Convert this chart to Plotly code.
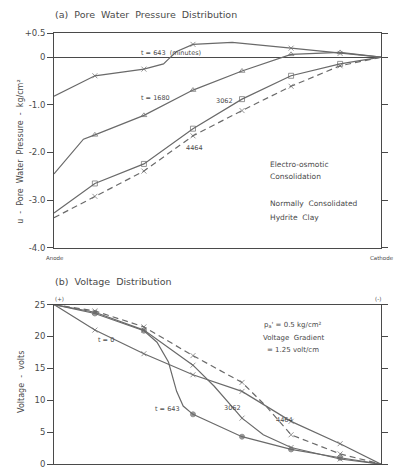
import plotly.graph_objects as go

W, H = 397, 475

# ---------------- data ----------------
MEAS_X = [2.5, 5.5, 8.5, 11.5, 14.5, 17.5]          # measuring points (cm from anode)

# (a) pore water pressure, kg/cm2
pwp_643_x = [0, 2.5, 5.5, 6.7, 7.0, 7.5, 8.5, 10.9, 14.5, 17.5, 20]
pwp_643_u = [-0.82, -0.39, -0.25, -0.14, -0.04, 0.12, 0.27, 0.31, 0.19, 0.08, 0]
pwp_1680_x = [0, 1.8, 2.5, 5.5, 8.5, 11.5, 14.5, 17.5, 20]
pwp_1680_u = [-2.45, -1.72, -1.63, -1.22, -0.69, -0.29, 0.06, 0.10, 0]
pwp_3062_x = [0, 2.5, 5.5, 8.5, 11.5, 14.5, 17.5, 20]
pwp_3062_u = [-3.27, -2.65, -2.24, -1.50, -0.88, -0.39, -0.14, 0]
pwp_4464_x = [0, 1.6, 2.5, 5.5, 8.5, 11.5, 14.5, 17.5, 20]
pwp_4464_u = [-3.37, -3.08, -2.92, -2.39, -1.65, -1.12, -0.61, -0.18, 0]

# (b) voltage, volts
v_0_x = [0, 2.5, 5.5, 8.5, 11.5, 14.5, 17.5, 20]
v_0 = [25, 21.0, 17.3, 14.0, 11.4, 6.7, 3.2, 0]
v_643_x = [0, 2.5, 5.5, 6.3, 7.0, 7.5, 7.9, 8.5, 11.5, 14.5, 17.5, 20]
v_643 = [25, 23.6, 20.9, 19.1, 16.0, 11.4, 9.1, 7.8, 4.3, 2.3, 1.0, 0]
v_3062_x = [0, 2.5, 5.5, 8.5, 9.8, 11.5, 12.8, 14.5, 17.5, 20]
v_3062 = [25, 23.8, 21.0, 15.5, 12.2, 7.2, 4.6, 2.6, 0.8, 0]
v_4464_x = [0, 2.5, 5.5, 8.5, 11.5, 13.0, 14.5, 17.5, 20]
v_4464 = [25, 24.0, 21.5, 17.0, 12.8, 9.0, 4.6, 1.6, 0]

pwp_yticks = [0.5, 0, -1, -2, -3, -4]
pwp_yticklabels = ["+0.5", "0", "-1.0", "-2.0", "-3.0", "-4.0"]
v_yticks = [0, 5, 10, 15, 20, 25]

# ---------------- style ----------------
INK = "#4a4a4a"
LINE = "#6a6a6a"
FONT = "DejaVu Sans, Verdana, sans-serif"


def msizes(xs, s=5):
    return [s if x in MEAS_X else 0 for x in xs]


def curve(xs, ys, xa, ya, symbol, dash="solid"):
    return go.Scatter(
        x=xs, y=ys, xaxis=xa, yaxis=ya, mode="lines+markers",
        line=dict(color=LINE, width=1.2, dash=dash),
        marker=dict(symbol=symbol, size=msizes(xs), color=LINE,
                    line=dict(color=LINE, width=1)),
        showlegend=False, hoverinfo="skip")


fig = go.Figure()
fig.add_trace(curve(pwp_643_x, pwp_643_u, "x", "y", "x-thin-open"))
fig.add_trace(curve(pwp_1680_x, pwp_1680_u, "x", "y", "triangle-up-open"))
fig.add_trace(curve(pwp_3062_x, pwp_3062_u, "x", "y", "square-open"))
fig.add_trace(curve(pwp_4464_x, pwp_4464_u, "x", "y", "x-thin-open", "6px,4px"))

fig.add_trace(curve(v_0_x, v_0, "x2", "y2", "x-thin-open"))
fig.add_trace(curve(v_643_x, v_643, "x2", "y2", "circle"))
fig.add_trace(curve(v_3062_x, v_3062, "x2", "y2", "x-thin-open"))
fig.add_trace(curve(v_4464_x, v_4464, "x2", "y2", "x-thin-open", "6px,4px"))

XDOM = [54 / W, 381 / W]
axcommon = dict(showgrid=False, showline=True, linecolor=INK, linewidth=1,
                mirror=True, zeroline=False)

fig.update_layout(
    width=W, height=H, autosize=False,
    margin=dict(l=0, r=0, t=0, b=0),
    paper_bgcolor="white", plot_bgcolor="white",
    font=dict(family=FONT, color=INK, size=8.5),
    xaxis=dict(domain=XDOM, range=[0, 20], anchor="y", showticklabels=False,
               ticks="", **axcommon),
    yaxis=dict(domain=[1 - 248 / H, 1 - 29 / H], range=[-4, 0.5], anchor="x",
               tickvals=pwp_yticks, ticktext=pwp_yticklabels, ticks="outside",
               ticklen=6, tickcolor=INK, tickfont=dict(size=8.5),
               showline=True, linecolor=INK, linewidth=1, mirror="ticks",
               showgrid=False, zeroline=True, zerolinecolor=INK, zerolinewidth=1),
    xaxis2=dict(domain=XDOM, range=[0, 20], anchor="y2", showticklabels=False,
                ticks="", **axcommon),
    yaxis2=dict(domain=[1 - 469 / H, 1 - 306 / H], range=[0, 25], anchor="x2",
                tickvals=v_yticks, ticks="outside", ticklen=6, tickcolor=INK,
                tickfont=dict(size=8.5), showline=True, linecolor=INK,
                linewidth=1, mirror="ticks", showgrid=False, zeroline=False),
)


def P(px, py):
    return dict(x=px / W, y=1 - py / H, xref="paper", yref="paper",
                showarrow=False)


ann = []


def txt(px, py, text, size=7.5, xanchor="center", angle=0):
    a = P(px, py)
    a.update(text=text, font=dict(size=size, color=INK, family=FONT),
             xanchor=xanchor, yanchor="middle", textangle=angle)
    ann.append(a)


# titles
txt(53, 10, "(a)  Pore  Water  Pressure  Distribution", 9.5, "left")
txt(53, 282, "(b)  Voltage  Distribution", 9.5, "left")
# axis titles
txt(21, 150, "u  -  Pore  Water  Pressure  -  kg/cm²", 8, angle=-90)
txt(22, 385, "Voltage  -  volts", 8, angle=-90)
# anode / cathode
txt(44, 258, "Anode", 5.5, "left")
txt(396, 258, "Cathode", 5.5, "right")
txt(53, 300, "(+)", 5.5, "left")
txt(378, 300, "(-)", 5.5, "center")
# top curve labels
txt(139, 49, "t = 643  (minutes)", 6.5, "left")
txt(139, 95, "t = 1680", 6.5, "left")
txt(224, 98, "3062", 6.5)
txt(194, 146, "4464", 6.5)
txt(268, 163, "Electro-osmotic", 7.5, "left")
txt(268, 175, "Consolidation", 7.5, "left")
txt(268, 203, "Normally  Consolidated", 7.5, "left")
txt(268, 217, "Hydrite  Clay", 7.5, "left")
# bottom curve labels
txt(167, 413, "t = 643", 6.5)
txt(232, 412, "3062", 6.5)
txt(284, 424, "4464", 6.5)
txt(293, 327, "p<sub>a</sub>' = 0.5 kg/cm²", 7)
txt(293, 340, "Voltage  Gradient", 7)
txt(293, 352, "= 1.25 volt/cm", 7)

# t = 0 with arrow
ann.append(dict(x=2.2, y=21.4, xref="x2", yref="y2", text="t = 0",
                showarrow=True, arrowhead=0, arrowwidth=1, arrowcolor=INK,
                ax=16, ay=12, font=dict(size=6.5, color=INK, family=FONT)))

fig.update_layout(annotations=ann)
fig.write_html(
    "out.html",
    config={"displayModeBar": False, "staticPlot": True},
    post_script="document.body.style.margin='0';document.body.style.overflow='hidden';",
)
